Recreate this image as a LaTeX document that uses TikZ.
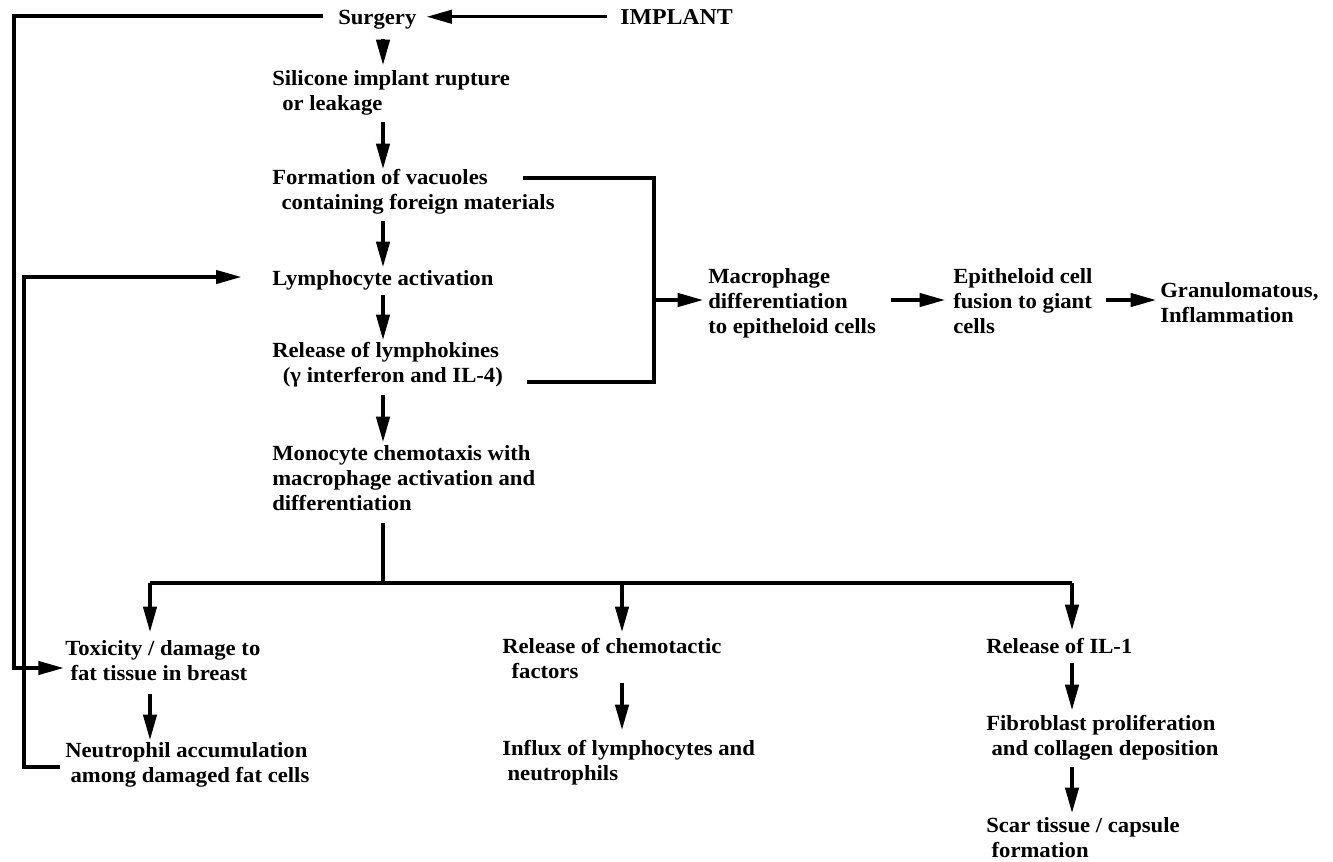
\documentclass[tikz,border=0pt]{standalone}
\usepackage{fontspec}
\setmainfont{Liberation Serif}[FakeStretch=1.05]
\usetikzlibrary{arrows.meta}
\begin{document}
\begin{tikzpicture}[x=0.75pt,y=-0.75pt,
  lbl/.style={anchor=north west, inner sep=0pt, align=left,
    font=\fontsize{16.2}{18.75}\selectfont\bfseries},
  ln/.style={line width=2.4pt},
  arr/.style={ln, -{Triangle[length=19pt,width=10pt]}}]
\useasboundingbox (0,0) rectangle (1333,861);

% nodes
\node[lbl] (surgery) at (338,10) {Surgery};
\node[lbl, font=\fontsize{17}{20}\selectfont\bfseries] (implant) at (620,9) {IMPLANT};
\node[lbl] (silicone) at (272,70) {Silicone implant rupture\\\hspace*{7.5pt}or leakage};
\node[lbl] (formation) at (272,169) {Formation of vacuoles\\\hspace*{7pt}containing foreign materials};
\node[lbl] (lymph) at (272,270) {Lymphocyte activation};
\node[lbl] (release) at (272,342) {Release of lymphokines\\\hspace*{8pt}(γ interferon and IL-4)};
\node[lbl] (monocyte) at (272,445) {Monocyte chemotaxis with\\macrophage activation and\\differentiation};
\node[lbl] (macro) at (708,268) {Macrophage\\differentiation\\to epitheloid cells};
\node[lbl] (epith) at (953,268) {Epitheloid cell\\fusion to giant\\cells};
\node[lbl] (granu) at (1160,282) {Granulomatous,\\Inflammation};
\node[lbl] (tox) at (65,640) {Toxicity / damage to\\\hspace*{4pt}fat tissue in breast};
\node[lbl] (neut) at (65,742) {Neutrophil accumulation\\\hspace*{4pt}among damaged fat cells};
\node[lbl] (chemo) at (502,638) {Release of chemotactic\\\hspace*{7pt}factors};
\node[lbl] (influx) at (502,740) {Influx of lymphocytes and\\\hspace*{4pt}neutrophils};
\node[lbl] (il1) at (986,638) {Release of IL-1};
\node[lbl] (fibro) at (986,715) {Fibroblast proliferation\\\hspace*{4pt}and collagen deposition};
\node[lbl] (scar) at (986,817) {Scar tissue / capsule\\\hspace*{4pt}formation};

% helper coordinates
\coordinate (col) at (383,0);
\coordinate (fbO) at (14,16);
\coordinate (fbI) at (24,277);
\coordinate (toxIn) at (0,668);
\coordinate (neutOut) at (0,767);
\coordinate (brR) at (654,0);
\coordinate (brTL) at (523,178);
\coordinate (brBL) at (527,382);
\coordinate (brMid) at (0,300);
\coordinate (split) at (383,583);
\coordinate (c1) at (150,0);
\coordinate (c2) at (622,0);
\coordinate (c3) at (1072,0);

% top
\draw[arr, shorten <=10pt, shorten >=7.5pt] (implant.west) -- (surgery.east |- implant.west);
\draw[arr, shorten <=11pt, shorten >=1pt] (surgery.west |- fbO) -- (fbO) -- (fbO |- toxIn) -- (tox.west |- toxIn);
\draw[arr, shorten <=4pt, shorten >=23pt] (neut.west |- neutOut) -- (fbI |- neutOut) -- (fbI) -- (lymph.west |- fbI);

% main column
\draw[arr, shorten <=7pt, shorten >=3.7pt] (surgery.south -| col) -- (silicone.north -| col);
\draw[arr, shorten <=5pt, shorten >=0pt] (silicone.south -| col) -- (formation.north -| col);
\draw[arr, shorten <=4.5pt, shorten >=2.2pt] (formation.south -| col) -- (lymph.north -| col);
\draw[arr, shorten <=3.7pt, shorten >=1.5pt] (lymph.south -| col) -- (release.north -| col);
\draw[arr, shorten <=6pt, shorten >=2.2pt] (release.south -| col) -- (monocyte.north -| col);
\draw[ln, shorten <=9pt] (monocyte.south -| col) -- (split);
\draw[ln] (split -| c1) -- (split -| c3);
\draw[arr, shorten >=6pt] (split -| c1) -- (tox.north -| c1);
\draw[arr, shorten >=4.5pt] (split -| c2) -- (chemo.north -| c2);
\draw[arr, shorten >=6pt] (split -| c3) -- (il1.north -| c3);
\draw[arr, shorten <=10pt, shorten >=1.5pt] (tox.south -| c1) -- (neut.north -| c1);
\draw[arr, shorten <=3pt, shorten >=7.5pt] (chemo.south -| c2) -- (influx.north -| c2);
\draw[arr, shorten <=6.5pt, shorten >=3.7pt] (il1.south -| c3) -- (fibro.north -| c3);
\draw[arr, shorten <=5pt, shorten >=3pt] (fibro.south -| c3) -- (scar.north -| c3);

% bracket to macrophage branch
\draw[ln] (brTL) -- (brTL -| brR) -- (brBL -| brR) -- (brBL);
\draw[arr, shorten >=3.7pt] (brR |- brMid) -- (macro.west |- brMid);
\draw[arr, shorten <=11pt, shorten >=6pt] (macro.east |- brMid) -- (epith.west |- brMid);
\draw[arr, shorten <=10pt, shorten >=3pt] (epith.east |- brMid) -- (granu.west |- brMid);
\end{tikzpicture}
\end{document}
